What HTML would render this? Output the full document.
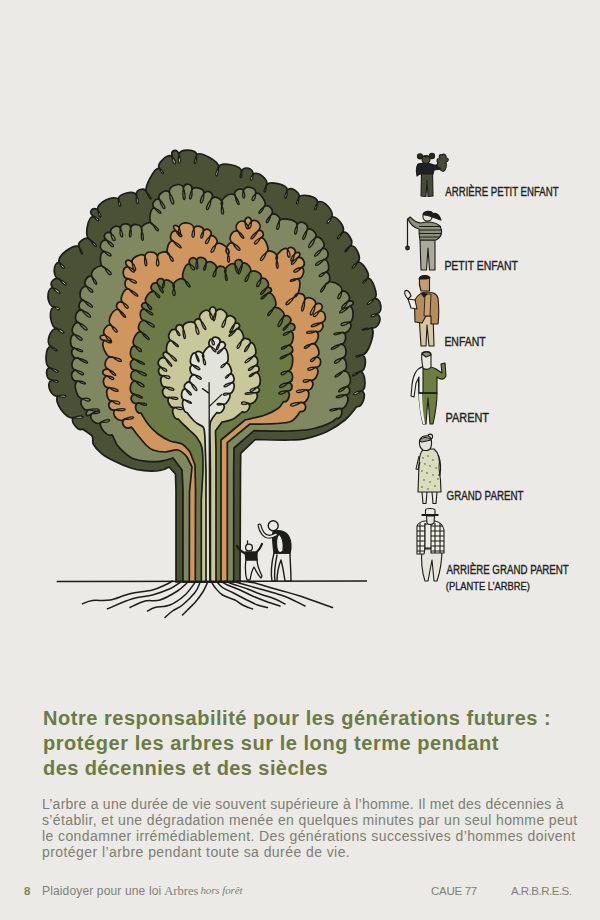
<!DOCTYPE html>
<html><head><meta charset="utf-8">
<style>
html,body{margin:0;padding:0;}
body{width:600px;height:920px;background:#ebeae6;position:relative;overflow:hidden;font-family:"Liberation Sans",sans-serif;}
.t{position:absolute;white-space:nowrap;}
#title{left:43px;top:706px;font-weight:bold;color:#6b7b45;font-size:20px;line-height:24.8px;letter-spacing:0.45px;}
#body{left:42px;top:795.7px;color:#7e7e71;font-size:14px;line-height:16.1px;letter-spacing:0.25px;}
.f{font-size:11px;color:#808078;}
svg{position:absolute;left:0;top:0;}
</style></head><body>
<svg width="600" height="660" viewBox="0 0 600 660" id="art">
<path d="M176.0,582.0 L176.0,490.0 L175.5,474.0 L169.0,467.0 C169.0,467.0 164.2,469.9 160.0,470.5 C155.8,471.1 148.9,471.1 144.0,470.7 C139.1,470.3 135.6,469.6 130.7,468.0 C125.8,466.4 119.6,463.8 114.7,461.3 C109.8,458.9 104.9,456.2 101.3,453.3 C97.7,450.4 94.8,446.9 93.3,444.0 C91.8,441.1 93.8,438.5 92.0,436.0 C90.2,433.5 86.9,432.3 82.7,429.0 C78.1,431.7 69.8,421.4 73.5,417.5 C66.8,420.6 52.8,401.3 57.9,395.9 C51.2,397.7 45.3,383.3 51.4,379.9 C46.2,379.9 44.7,368.9 49.8,367.6 C44.2,366.2 45.1,347.2 50.8,346.4 C44.9,343.3 50.6,327.3 57.1,328.6 C50.4,328.5 47.7,308.9 54.1,306.9 C46.9,306.4 45.6,289.0 52.6,287.5 C48.4,283.3 54.7,275.9 59.6,279.3 C52.7,278.6 52.3,263.2 59.2,262.2 C56.3,256.2 74.3,242.7 79.2,247.1 C76.5,242.2 86.3,235.4 90.0,239.6 C84.0,237.5 87.3,216.6 93.7,216.4 C87.9,212.4 91.6,206.4 97.7,209.8 C95.7,203.1 114.5,193.8 118.6,199.5 C118.1,193.3 134.3,189.7 136.5,195.5 C135.3,189.3 144.7,186.7 146.9,192.6 C143.1,189.1 154.3,167.1 159.3,168.1 C156.3,163.5 167.8,153.1 172.1,156.5 C170.4,149.9 176.7,148.0 179.1,154.4 C180.1,148.5 196.0,148.9 196.7,154.8 C200.4,150.8 219.9,161.9 218.4,167.1 C220.7,161.2 241.6,165.3 241.5,171.6 C243.8,165.4 254.0,168.0 252.9,174.5 C257.7,170.1 269.7,180.1 266.3,185.6 C268.6,180.2 287.5,184.4 287.3,190.2 C291.3,185.8 301.4,193.0 298.5,198.2 C300.8,192.5 318.0,196.2 317.6,202.3 C323.3,198.6 335.6,212.2 331.2,217.5 C336.7,214.7 346.6,228.2 342.2,232.6 C347.6,230.2 354.7,242.3 350.2,245.9 C356.1,244.3 362.5,259.1 357.3,262.4 C362.0,260.5 371.0,274.8 367.4,278.2 C372.4,277.6 378.9,295.6 374.6,298.3 C381.2,298.0 383.5,312.0 377.1,313.9 C383.5,317.4 378.1,330.0 371.1,327.8 C376.6,331.3 368.1,355.7 361.7,355.0 C367.4,356.3 366.1,371.2 360.2,371.5 C365.5,372.1 366.8,389.4 361.6,390.7 C367.2,393.3 362.8,407.7 356.7,406.7 C353.5,410.9 350.0,415.8 345.0,420.0 C340.0,424.2 333.1,428.6 326.7,431.7 C320.3,434.8 312.8,436.9 306.7,438.3 C300.6,439.7 298.6,439.8 290.0,440.0 C281.4,440.2 255.3,439.5 255.3,439.5 L240.7,453.3 L240.5,470.0 L240.0,582.0 L176.0,582.0Z" fill="#4a5134" stroke="#1c1c18" stroke-width="1.7" stroke-linejoin="round"/>
<path d="M73.5,417.5 C86.6,420.2 86.1,413.1 73.5,417.5 M57.9,395.9 C68.3,400.1 68.7,392.8 57.9,395.9 M51.4,379.9 C59.2,385.4 61.0,379.2 51.4,379.9 M49.8,367.6 C59.5,376.5 62.6,370.6 49.8,367.6 M50.8,346.4 C57.2,354.8 60.7,350.2 50.8,346.4 M57.1,328.6 C64.1,337.5 68.1,331.1 57.1,328.6 M54.1,306.9 C59.8,313.3 62.7,306.8 54.1,306.9 M52.6,287.5 C60.0,297.8 64.4,291.9 52.6,287.5 M59.6,279.3 C66.2,289.5 70.8,284.0 59.6,279.3 M59.2,262.2 C63.2,272.4 68.3,268.3 59.2,262.2 M79.2,247.1 C80.8,257.4 85.6,255.3 79.2,247.1 M90.0,239.6 C96.0,250.9 100.8,246.4 90.0,239.6 M93.7,216.4 C98.4,224.5 102.5,219.5 93.7,216.4 M97.7,209.8 C98.8,220.5 104.4,218.2 97.7,209.8 M118.6,199.5 C117.6,209.6 123.9,208.1 118.6,199.5 M136.5,195.5 C134.9,206.9 141.5,205.9 136.5,195.5 M146.9,192.6 C150.3,202.5 154.6,199.7 146.9,192.6 M159.3,168.1 C162.4,177.0 166.9,173.7 159.3,168.1 M172.1,156.5 C172.8,167.9 179.6,165.1 172.1,156.5 M179.1,154.4 C176.0,166.5 183.2,166.1 179.1,154.4 M196.7,154.8 C191.4,166.0 197.1,167.2 196.7,154.8 M218.4,167.1 C212.2,178.2 218.9,179.7 218.4,167.1 M241.5,171.6 C237.9,179.4 243.0,180.1 241.5,171.6 M252.9,174.5 C247.0,180.8 253.7,183.1 252.9,174.5 M266.3,185.6 C261.2,193.6 266.4,195.1 266.3,185.6 M287.3,190.2 C281.7,200.3 287.5,201.7 287.3,190.2 M298.5,198.2 C293.9,205.5 299.2,206.8 298.5,198.2 M317.6,202.3 C311.4,211.3 316.7,213.2 317.6,202.3 M331.2,217.5 C323.2,223.3 329.0,227.1 331.2,217.5 M342.2,232.6 C333.7,238.9 338.4,242.5 342.2,232.6 M350.2,245.9 C341.4,251.9 345.3,255.3 350.2,245.9 M357.3,262.4 C348.6,267.8 353.3,271.8 357.3,262.4 M367.4,278.2 C359.5,282.9 363.4,286.5 367.4,278.2 M374.6,298.3 C363.0,303.9 367.2,308.8 374.6,298.3 M377.1,313.9 C367.6,314.3 370.3,320.5 377.1,313.9 M371.1,327.8 C358.8,327.8 359.9,332.8 371.1,327.8 M361.7,355.0 C353.3,354.8 355.0,360.0 361.7,355.0 M360.2,371.5 C348.8,374.6 351.4,379.5 360.2,371.5 M361.6,390.7 C349.7,392.3 352.6,398.6 361.6,390.7" fill="#ebeae6" stroke="#1c1c18" stroke-width="1.3" stroke-linecap="round"/>
<path d="M183.0,582.0 L183.0,490.0 L182.0,470.0 L173.0,458.0 C173.0,458.0 164.4,460.8 160.0,461.3 C155.6,461.9 151.1,461.7 146.7,461.3 C142.2,460.9 136.9,460.0 133.3,458.7 C129.7,457.4 128.0,455.5 125.3,453.3 C122.6,451.1 119.5,448.4 117.3,445.3 C115.1,442.2 114.2,437.6 112.0,434.7 C107.4,437.5 97.7,426.1 101.2,422.0 C96.4,426.5 88.0,418.9 91.8,413.6 C86.7,417.7 83.7,414.2 88.5,409.7 C83.2,411.7 78.1,401.7 82.8,398.7 C77.0,399.4 72.4,383.6 77.7,381.0 C71.1,381.7 69.2,371.9 75.6,370.1 C69.6,368.4 71.5,357.4 77.7,357.9 C72.2,359.2 69.2,350.4 74.4,348.1 C69.3,347.4 69.3,335.0 74.4,334.4 C69.7,331.9 73.6,321.4 78.8,322.7 C73.0,320.6 75.7,309.3 81.8,310.1 C77.1,308.6 78.9,300.0 83.8,300.5 C77.5,298.6 79.8,285.8 86.5,286.3 C82.3,283.2 87.3,274.5 92.0,276.6 C88.8,270.8 100.0,262.7 104.5,267.6 C99.2,266.9 98.9,252.3 104.2,251.4 C97.7,249.4 100.0,239.2 106.7,240.1 C101.7,236.4 105.6,230.3 111.0,233.3 C108.8,228.0 117.3,223.6 120.4,228.4 C120.6,222.6 129.9,222.2 130.7,227.8 C132.6,222.1 142.7,224.5 141.8,230.5 C139.8,224.9 150.2,219.9 153.3,224.9 C148.1,223.7 149.2,208.5 154.5,208.0 C150.4,205.0 154.9,197.4 159.5,199.5 C156.7,194.5 165.7,188.2 169.5,192.5 C167.9,186.0 180.4,181.4 183.4,187.4 C185.4,181.8 193.0,183.9 191.9,189.7 C193.8,185.4 204.6,188.5 203.9,193.2 C208.4,188.6 215.0,194.0 211.2,199.2 C215.0,194.3 224.6,200.0 221.9,205.7 C218.5,199.9 230.3,190.8 235.0,195.5 C232.9,190.9 240.4,186.5 243.4,190.6 C245.4,184.7 256.5,187.3 255.7,193.5 C260.1,191.6 267.7,203.3 264.2,206.5 C269.4,203.4 275.2,211.5 270.6,215.5 C273.9,211.5 281.7,216.7 279.2,221.3 C281.1,216.5 297.2,219.7 297.1,224.8 C300.5,219.2 309.5,223.7 307.1,229.8 C310.7,226.7 318.3,233.7 315.4,237.6 C320.6,235.0 327.0,244.8 322.5,248.5 C329.0,248.3 330.2,258.2 323.8,259.5 C329.0,259.4 330.6,270.9 325.7,272.2 C330.7,272.6 331.2,282.9 326.2,283.7 C329.9,278.3 343.9,285.4 341.7,291.6 C346.6,289.2 352.2,297.9 347.8,301.4 C353.7,299.4 355.4,303.9 349.7,306.3 C354.3,307.2 354.1,321.5 349.4,322.2 C353.6,325.6 347.7,334.8 342.8,332.4 C347.6,333.9 345.8,344.5 340.8,344.2 C346.9,344.4 348.0,356.9 342.0,358.1 C346.8,358.1 348.2,369.6 343.6,370.8 C350.3,370.3 353.1,384.4 346.7,386.5 C351.2,387.5 350.2,394.9 345.6,394.7 C351.0,397.8 345.8,410.1 339.8,408.4 C344.0,410.2 341.2,419.2 336.7,418.3 C331.2,423.4 322.8,426.2 315.0,428.3 C307.2,430.4 300.2,430.6 290.0,431.0 C279.8,431.4 254.0,430.7 254.0,430.7 L234.0,448.0 L233.7,470.0 L233.7,582.0 L183.0,582.0Z" fill="#7f8860" stroke="#1c1c18" stroke-width="1.7" stroke-linejoin="round"/>
<path d="M101.2,422.0 C113.3,424.2 111.5,415.4 101.2,422.0 M91.8,413.6 C103.1,414.5 101.5,407.7 91.8,413.6 M88.5,409.7 C102.6,414.1 102.9,406.5 88.5,409.7 M82.8,398.7 C91.6,405.4 93.6,396.1 82.8,398.7 M77.7,381.0 C87.0,387.4 88.9,381.2 77.7,381.0 M75.6,370.1 C84.1,379.5 88.1,372.2 75.6,370.1 M77.7,357.9 C89.3,367.4 92.3,361.3 77.7,357.9 M74.4,348.1 C84.1,355.6 86.6,349.6 74.4,348.1 M74.4,334.4 C82.0,345.4 87.2,338.3 74.4,334.4 M78.8,322.7 C86.6,335.8 92.8,328.8 78.8,322.7 M81.8,310.1 C90.5,322.7 96.2,315.6 81.8,310.1 M83.8,300.5 C92.9,312.3 97.6,306.0 83.8,300.5 M86.5,286.3 C91.8,297.0 97.6,290.8 86.5,286.3 M92.0,276.6 C95.0,288.5 100.8,285.1 92.0,276.6 M104.5,267.6 C109.7,280.0 116.4,273.8 104.5,267.6 M104.2,251.4 C110.9,260.5 115.3,253.5 104.2,251.4 M106.7,240.1 C112.7,251.6 118.3,245.8 106.7,240.1 M111.0,233.3 C111.5,245.0 120.0,240.8 111.0,233.3 M120.4,228.4 C118.3,240.4 126.5,238.9 120.4,228.4 M130.7,227.8 C126.7,240.1 133.1,240.5 130.7,227.8 M141.8,230.5 C139.5,244.1 146.4,243.6 141.8,230.5 M153.3,224.9 C157.3,234.8 162.3,230.6 153.3,224.9 M154.5,208.0 C160.8,217.4 165.0,212.2 154.5,208.0 M159.5,199.5 C162.9,213.6 169.9,209.5 159.5,199.5 M169.5,192.5 C169.8,209.3 178.8,206.5 169.5,192.5 M183.4,187.4 C181.1,203.8 188.2,203.3 183.4,187.4 M191.9,189.7 C186.1,201.5 193.2,202.8 191.9,189.7 M203.9,193.2 C196.0,205.0 204.0,207.4 203.9,193.2 M211.2,199.2 C201.5,211.4 209.5,214.7 211.2,199.2 M221.9,205.7 C219.2,217.4 226.9,216.6 221.9,205.7 M235.0,195.5 C237.1,208.9 243.0,206.4 235.0,195.5 M243.4,190.6 C240.1,200.8 247.8,200.3 243.4,190.6 M255.7,193.5 C247.5,201.2 255.4,204.8 255.7,193.5 M264.2,206.5 C254.7,213.6 260.1,217.6 264.2,206.5 M270.6,215.5 C262.2,223.3 268.4,226.7 270.6,215.5 M279.2,221.3 C272.8,231.3 280.7,233.0 279.2,221.3 M297.1,224.8 C291.0,236.6 298.3,238.0 297.1,224.8 M307.1,229.8 C298.4,241.2 305.0,244.0 307.1,229.8 M315.4,237.6 C302.9,248.1 310.9,253.3 315.4,237.6 M322.5,248.5 C309.4,255.8 314.9,261.4 322.5,248.5 M323.8,259.5 C310.7,263.5 315.4,270.3 323.8,259.5 M325.7,272.2 C315.1,274.5 319.3,281.0 325.7,272.2 M326.2,283.7 C316.1,292.8 321.9,296.6 326.2,283.7 M341.7,291.6 C333.2,299.1 341.3,302.9 341.7,291.6 M347.8,301.4 C336.9,308.0 343.0,313.2 347.8,301.4 M349.7,306.3 C334.2,311.2 338.6,318.2 349.7,306.3 M349.4,322.2 C336.9,321.0 339.7,330.1 349.4,322.2 M342.8,332.4 C330.3,331.6 331.5,338.0 342.8,332.4 M340.8,344.2 C326.6,347.8 329.7,353.8 340.8,344.2 M342.0,358.1 C329.7,360.7 334.7,368.3 342.0,358.1 M343.6,370.8 C330.2,376.4 334.0,381.7 343.6,370.8 M346.7,386.5 C333.9,390.0 338.1,396.5 346.7,386.5 M345.6,394.7 C332.2,394.6 334.0,401.4 345.6,394.7 M339.8,408.4 C325.8,407.9 327.2,414.4 339.8,408.4" fill="none" stroke="#1c1c18" stroke-width="1.3" stroke-linecap="round"/>
<path d="M189.3,582.0 L189.5,492.0 L192.0,467.0 L187.0,457.0 C187.0,457.0 181.7,450.8 178.0,450.0 C174.3,449.2 169.2,452.0 165.0,452.0 C160.8,452.0 156.2,451.2 153.0,450.0 C149.8,448.8 148.6,447.6 146.0,445.0 C143.4,442.4 139.8,437.7 137.3,434.7 C134.8,431.7 133.9,429.4 131.0,427.0 C125.7,430.7 119.8,423.7 124.5,419.1 C119.2,423.5 110.7,415.1 115.0,409.8 C109.1,411.4 106.3,403.3 111.8,400.9 C106.9,401.1 104.6,389.3 109.3,387.7 C102.8,388.1 101.1,377.6 107.5,376.0 C100.8,375.0 101.5,368.8 108.2,369.2 C102.2,366.4 105.9,355.5 112.4,357.1 C106.7,358.7 99.7,343.7 104.6,340.4 C98.5,339.6 98.9,334.8 105.0,335.0 C101.2,331.7 106.9,323.1 111.4,325.5 C105.9,322.0 112.5,307.7 118.7,309.6 C114.0,306.1 117.9,299.9 123.1,302.7 C118.6,300.0 123.8,287.7 128.8,289.0 C124.1,288.7 123.7,279.5 128.4,278.7 C121.9,278.4 121.4,267.6 127.8,266.7 C123.3,261.6 127.3,257.8 132.2,262.4 C130.7,257.9 142.2,252.2 144.9,256.2 C146.2,249.9 157.4,251.0 157.5,257.4 C157.0,251.9 167.7,249.8 169.3,255.0 C164.8,253.0 168.2,240.4 173.1,241.0 C168.3,239.1 170.9,230.0 176.0,230.9 C171.4,226.6 174.2,223.4 179.1,227.3 C180.4,220.8 193.6,221.9 193.8,228.5 C195.5,224.1 204.1,226.4 203.4,231.0 C207.3,226.6 213.5,231.2 210.2,236.2 C214.3,234.0 219.4,241.4 215.9,244.4 C220.4,240.2 231.5,249.3 228.3,254.5 C223.6,252.0 227.6,241.7 232.8,243.1 C227.0,239.9 231.7,229.1 237.9,231.1 C232.9,226.5 239.3,218.3 245.0,222.0 C244.6,216.3 250.5,215.6 251.5,221.2 C257.4,217.8 263.4,226.3 258.1,230.7 C263.2,229.4 265.4,236.0 260.5,238.0 C265.2,236.9 270.5,249.9 266.4,252.4 C270.4,248.0 279.6,254.6 276.7,259.8 C274.0,255.9 283.8,246.3 287.6,249.1 C290.7,245.2 297.1,249.3 294.7,253.7 C299.3,250.7 301.9,254.3 297.6,257.7 C303.3,255.9 306.9,264.8 301.6,267.5 C306.0,269.7 302.4,279.7 297.6,278.6 C302.0,280.3 299.1,296.8 294.4,297.0 C296.6,290.8 305.9,293.3 304.7,299.8 C307.4,295.2 317.0,299.6 315.4,304.6 C321.3,301.3 325.0,307.1 319.5,311.0 C326.1,310.6 327.7,321.0 321.3,322.6 C325.6,325.9 320.6,333.7 315.8,331.3 C320.9,333.6 317.2,344.9 311.7,343.8 C317.3,342.5 321.7,354.3 316.5,357.0 C322.5,358.0 321.7,367.3 315.7,367.3 C320.8,370.2 315.9,381.7 310.2,380.1 C315.4,382.6 312.1,391.4 306.5,389.8 C311.7,392.7 307.0,404.1 301.2,402.4 C307.8,403.8 306.7,412.1 300.0,411.7 C297.3,415.3 295.8,419.6 290.0,421.7 C284.2,423.8 271.7,423.6 265.0,424.0 C258.3,424.4 250.0,424.0 250.0,424.0 L227.3,442.7 L227.3,460.0 L227.3,582.0 L189.3,582.0Z" fill="#d0965f" stroke="#1c1c18" stroke-width="1.7" stroke-linejoin="round"/>
<path d="M124.5,419.1 C137.3,420.6 136.0,413.3 124.5,419.1 M115.0,409.8 C128.8,412.9 128.7,406.1 115.0,409.8 M111.8,400.9 C121.1,408.5 123.8,399.8 111.8,400.9 M109.3,387.7 C119.6,395.7 122.4,388.5 109.3,387.7 M107.5,376.0 C114.2,383.4 117.5,376.8 107.5,376.0 M108.2,369.2 C116.1,379.7 120.1,375.0 108.2,369.2 M112.4,357.1 C122.8,365.9 125.9,358.5 112.4,357.1 M104.6,340.4 C113.0,346.6 114.9,338.8 104.6,340.4 M105.0,335.0 C110.4,346.6 116.3,341.0 105.0,335.0 M111.4,325.5 C115.8,336.8 122.0,331.4 111.4,325.5 M118.7,309.6 C125.5,322.0 130.1,317.9 118.7,309.6 M123.1,302.7 C126.5,312.6 132.6,307.1 123.1,302.7 M128.8,289.0 C138.7,301.1 142.9,295.7 128.8,289.0 M128.4,278.7 C137.4,287.7 140.9,280.7 128.4,278.7 M127.8,266.7 C134.4,276.5 138.9,270.9 127.8,266.7 M132.2,262.4 C132.8,274.2 139.5,271.7 132.2,262.4 M144.9,256.2 C143.1,269.5 150.0,268.6 144.9,256.2 M157.5,257.4 C153.6,269.1 162.0,268.8 157.5,257.4 M169.3,255.0 C170.7,265.1 177.4,261.2 169.3,255.0 M173.1,241.0 C181.4,252.6 185.9,247.3 173.1,241.0 M176.0,230.9 C180.3,241.5 186.5,235.6 176.0,230.9 M179.1,227.3 C176.7,238.2 183.4,237.7 179.1,227.3 M193.8,228.5 C188.6,240.0 196.7,240.8 193.8,228.5 M203.4,231.0 C197.2,239.5 204.0,241.5 203.4,231.0 M210.2,236.2 C200.8,243.8 208.2,248.1 210.2,236.2 M215.9,244.4 C206.2,252.7 213.7,257.0 215.9,244.4 M228.3,254.5 C225.3,265.0 232.3,264.6 228.3,254.5 M232.8,243.1 C239.0,255.6 245.2,249.4 232.8,243.1 M237.9,231.1 C242.9,242.6 248.2,238.3 237.9,231.1 M245.0,222.0 C245.5,232.7 252.5,229.7 245.0,222.0 M251.5,221.2 C243.7,229.3 251.6,232.5 251.5,221.2 M258.1,230.7 C246.2,239.4 251.2,243.8 258.1,230.7 M260.5,238.0 C249.7,242.6 255.6,248.7 260.5,238.0 M266.4,252.4 C255.4,260.8 262.3,265.7 266.4,252.4 M276.7,259.8 C274.6,271.4 281.0,270.8 276.7,259.8 M287.6,249.1 C285.7,260.8 294.0,259.1 287.6,249.1 M294.7,253.7 C286.7,262.0 293.1,265.1 294.7,253.7 M297.6,257.7 C286.9,264.0 292.4,268.9 297.6,257.7 M301.6,267.5 C289.2,269.3 293.4,277.1 301.6,267.5 M297.6,278.6 C286.9,278.8 288.8,284.6 297.6,278.6 M294.4,297.0 C280.3,303.9 286.2,310.4 294.4,297.0 M304.7,299.8 C297.7,313.9 304.9,315.6 304.7,299.8 M315.4,304.6 C305.1,316.6 313.3,320.2 315.4,304.6 M319.5,311.0 C308.8,315.1 314.5,321.3 319.5,311.0 M321.3,322.6 C306.4,323.9 309.2,331.4 321.3,322.6 M315.8,331.3 C303.0,329.7 304.0,336.6 315.8,331.3 M311.7,343.8 C300.2,346.5 303.5,352.4 311.7,343.8 M316.5,357.0 C306.4,359.5 311.0,365.8 316.5,357.0 M315.7,367.3 C303.9,366.3 306.3,374.5 315.7,367.3 M310.2,380.1 C300.0,377.5 301.6,386.1 310.2,380.1 M306.5,389.8 C292.3,388.0 294.0,396.8 306.5,389.8 M301.2,402.4 C285.8,402.2 288.2,410.7 301.2,402.4" fill="none" stroke="#1c1c18" stroke-width="1.3" stroke-linecap="round"/>
<path d="M195.3,582.0 L195.5,490.0 L195.0,465.0 L190.0,452.0 C190.0,452.0 185.3,445.8 182.0,444.0 C178.7,442.2 174.0,442.7 170.0,441.0 C166.0,439.3 161.7,436.8 158.0,434.0 C154.3,431.2 150.8,427.5 148.0,424.0 C145.2,420.5 143.9,417.9 141.0,413.0 C135.8,413.9 133.4,404.9 138.3,403.0 C132.1,405.4 128.3,397.5 134.0,394.2 C128.3,392.9 129.5,381.1 135.4,381.0 C128.9,380.0 129.7,370.4 136.2,370.4 C129.8,370.9 128.1,360.8 134.4,359.2 C128.7,358.2 129.3,346.3 135.0,345.9 C130.3,342.9 136.2,330.4 141.5,332.1 C136.0,329.9 139.0,319.5 144.9,320.6 C139.3,320.4 138.5,309.9 144.0,308.9 C139.7,306.6 141.9,301.5 146.6,303.2 C142.7,299.6 149.9,289.4 154.6,291.8 C148.6,289.6 150.9,281.7 157.2,283.1 C156.3,278.6 162.5,276.8 164.2,281.1 C167.3,277.7 176.0,283.8 173.8,287.9 C170.9,282.7 180.7,275.7 184.7,280.1 C180.0,277.8 184.5,263.3 189.7,264.0 C187.3,258.8 193.7,255.3 196.8,260.1 C199.0,255.0 207.5,257.8 206.2,263.3 C209.5,259.1 218.4,264.6 216.0,269.4 C219.0,263.3 227.5,266.7 225.5,273.2 C222.5,269.1 231.0,261.2 234.9,264.4 C234.5,258.9 241.4,257.9 242.6,263.3 C247.0,260.9 253.2,269.7 249.5,273.1 C252.7,268.0 263.0,272.9 261.0,278.6 C265.6,276.1 271.0,284.1 267.0,287.5 C272.3,286.9 273.1,292.0 267.9,293.1 C274.0,291.8 278.9,305.6 273.3,308.4 C277.1,304.8 286.3,312.3 283.5,316.8 C288.1,313.3 293.4,319.2 289.4,323.4 C296.0,322.9 297.0,330.1 290.6,331.4 C295.2,332.8 293.2,345.3 288.4,345.3 C293.1,344.9 294.4,352.4 289.9,353.6 C294.8,355.1 292.7,370.9 287.6,371.1 C293.9,371.4 294.3,381.8 288.1,382.7 C293.9,383.8 293.0,391.3 287.1,391.0 C291.7,393.2 288.3,402.9 283.3,401.7 C281.2,404.8 281.4,406.1 278.3,408.3 C275.2,410.5 270.6,413.1 265.0,415.0 C259.4,416.9 245.0,420.0 245.0,420.0 L221.0,440.0 L221.0,460.0 L221.0,582.0 L195.3,582.0Z" fill="#6c7a48" stroke="#1c1c18" stroke-width="1.7" stroke-linejoin="round"/>
<path d="M138.3,403.0 C148.6,408.6 150.0,402.1 138.3,403.0 M134.0,394.2 C143.9,401.8 146.4,396.1 134.0,394.2 M135.4,381.0 C144.4,392.1 149.2,384.7 135.4,381.0 M136.2,370.4 C147.9,380.9 151.6,373.5 136.2,370.4 M134.4,359.2 C146.6,368.7 149.3,363.2 134.4,359.2 M135.0,345.9 C140.6,356.5 146.3,349.5 135.0,345.9 M141.5,332.1 C149.0,344.5 154.1,339.3 141.5,332.1 M144.9,320.6 C155.2,332.2 159.6,325.6 144.9,320.6 M144.0,308.9 C154.1,319.6 157.9,313.8 144.0,308.9 M146.6,303.2 C150.1,313.7 155.9,309.1 146.6,303.2 M154.6,291.8 C158.5,301.9 163.9,297.1 154.6,291.8 M157.2,283.1 C162.1,297.9 168.1,294.2 157.2,283.1 M164.2,281.1 C159.4,289.7 165.5,290.9 164.2,281.1 M173.8,287.9 C169.9,298.3 178.4,298.1 173.8,287.9 M184.7,280.1 C188.9,291.4 194.4,287.2 184.7,280.1 M189.7,264.0 C192.3,274.6 199.4,268.9 189.7,264.0 M196.8,260.1 C193.8,272.1 200.5,271.9 196.8,260.1 M206.2,263.3 C200.4,271.6 206.4,273.4 206.2,263.3 M216.0,269.4 C209.0,278.0 216.8,280.5 216.0,269.4 M225.5,273.2 C224.1,283.7 230.2,282.7 225.5,273.2 M234.9,264.4 C235.7,277.1 242.2,274.9 234.9,264.4 M242.6,263.3 C234.3,276.7 240.4,278.9 242.6,263.3 M249.5,273.1 C240.3,282.5 247.8,286.2 249.5,273.1 M261.0,278.6 C251.8,287.2 260.0,291.2 261.0,278.6 M267.0,287.5 C256.2,294.1 261.2,298.8 267.0,287.5 M267.9,293.1 C256.9,298.5 261.0,303.2 267.9,293.1 M273.3,308.4 C263.4,315.8 268.8,320.0 273.3,308.4 M283.5,316.8 C272.7,327.8 280.4,331.9 283.5,316.8 M289.4,323.4 C278.8,330.5 283.4,334.6 289.4,323.4 M290.6,331.4 C279.4,333.2 282.4,339.3 290.6,331.4 M288.4,345.3 C277.5,347.1 280.6,353.1 288.4,345.3 M289.9,353.6 C275.4,357.5 278.4,363.2 289.9,353.6 M287.6,371.1 C277.1,371.3 281.0,379.3 287.6,371.1 M288.1,382.7 C274.6,384.5 278.9,392.6 288.1,382.7 M287.1,391.0 C274.6,390.3 277.2,398.8 287.1,391.0" fill="none" stroke="#1c1c18" stroke-width="1.3" stroke-linecap="round"/>
<path d="M201.3,582.0 L201.3,500.0 L203.0,470.0 C203.0,470.0 203.1,453.4 202.0,448.0 C200.9,442.6 198.8,440.3 196.7,437.3 C194.6,434.3 192.4,433.1 189.3,430.0 C186.2,426.9 181.9,423.7 178.3,419.0 C173.7,419.8 170.5,409.4 174.7,407.5 C170.6,409.0 165.7,400.0 169.3,397.4 C163.2,399.0 159.9,389.9 165.6,387.2 C160.8,387.6 158.8,377.1 163.4,375.7 C158.6,376.5 156.6,369.0 161.1,367.3 C155.4,364.2 159.1,355.9 165.2,358.1 C160.9,353.7 164.5,349.9 169.1,354.0 C164.4,352.5 166.4,340.5 171.4,340.7 C165.8,337.6 170.0,327.8 176.1,329.8 C175.1,324.4 181.4,322.7 183.1,327.9 C182.4,322.2 193.7,319.4 195.7,324.9 C192.6,321.2 197.0,316.9 200.6,320.1 C196.7,315.0 204.9,307.4 209.6,311.6 C209.4,305.8 215.2,305.3 216.1,311.1 C220.3,306.2 229.2,312.5 226.0,318.1 C229.6,313.0 237.7,317.6 235.0,323.3 C239.8,322.0 241.5,327.0 236.9,328.9 C241.9,327.7 246.0,338.9 241.4,341.3 C242.6,336.7 250.8,338.1 250.5,342.7 C255.2,342.4 258.0,354.4 253.6,356.1 C258.1,355.9 259.4,364.6 255.1,365.7 C260.1,365.7 260.6,371.8 255.6,372.5 C261.3,373.0 262.0,386.4 256.4,387.5 C260.7,388.2 260.2,392.8 255.8,392.6 C260.2,396.5 253.3,406.1 248.2,403.3 C252.1,406.6 247.0,414.1 242.5,411.7 C239.4,414.1 236.7,417.3 233.3,419.0 C229.9,420.7 222.0,422.0 222.0,422.0 L215.5,431.0 L216.0,450.0 L216.0,582.0 L201.3,582.0Z" fill="#c8c89b" stroke="#1c1c18" stroke-width="1.7" stroke-linejoin="round"/>
<path d="M174.7,407.5 C184.4,413.3 185.8,405.3 174.7,407.5 M169.3,397.4 C180.2,402.5 181.2,395.9 169.3,397.4 M165.6,387.2 C175.6,394.3 177.8,386.8 165.6,387.2 M163.4,375.7 C170.6,382.6 173.4,374.5 163.4,375.7 M161.1,367.3 C166.3,375.6 170.7,368.9 161.1,367.3 M165.2,358.1 C171.5,370.7 176.1,367.0 165.2,358.1 M169.1,354.0 C176.6,365.7 181.2,360.7 169.1,354.0 M171.4,340.7 C178.7,350.8 182.5,346.4 171.4,340.7 M176.1,329.8 C178.1,339.1 183.5,335.9 176.1,329.8 M183.1,327.9 C182.3,342.6 188.5,341.6 183.1,327.9 M195.7,324.9 C195.2,338.7 203.3,336.4 195.7,324.9 M200.6,320.1 C204.4,334.2 210.3,331.0 200.6,320.1 M209.6,311.6 C209.8,323.1 216.7,320.7 209.6,311.6 M216.1,311.1 C209.9,323.3 215.8,324.7 216.1,311.1 M226.0,318.1 C217.4,328.9 225.0,331.8 226.0,318.1 M235.0,323.3 C225.7,333.9 230.9,336.8 235.0,323.3 M236.9,328.9 C224.4,336.5 228.5,340.9 236.9,328.9 M241.4,341.3 C232.8,348.8 239.4,352.5 241.4,341.3 M250.5,342.7 C240.0,352.8 245.6,356.4 250.5,342.7 M253.6,356.1 C240.1,361.8 244.5,367.6 253.6,356.1 M255.1,365.7 C244.5,368.9 248.2,374.4 255.1,365.7 M255.6,372.5 C245.7,375.1 248.8,380.2 255.6,372.5 M256.4,387.5 C246.1,388.8 249.9,395.5 256.4,387.5 M255.8,392.6 C241.0,391.0 241.6,397.2 255.8,392.6 M248.2,403.3 C239.3,398.8 239.0,407.4 248.2,403.3" fill="none" stroke="#1c1c18" stroke-width="1.3" stroke-linecap="round"/>
<path d="M206.0,582.0 L206.0,470.0 L205.0,440.0 C205.0,440.0 204.7,430.6 203.7,428.0 C202.7,425.4 200.5,425.7 198.9,424.5 C197.3,423.3 196.1,423.0 194.1,421.0 C192.1,419.0 189.0,415.3 187.0,412.5 C183.4,412.6 180.7,401.0 184.1,399.6 C180.0,398.5 181.2,388.9 185.4,388.9 C182.3,385.5 187.3,380.1 190.9,382.9 C187.8,381.0 191.1,373.7 194.7,374.8 C190.1,375.3 188.1,366.5 192.5,365.0 C188.4,363.4 191.0,352.5 195.4,352.9 C198.2,349.2 205.3,353.5 203.3,357.7 C200.6,355.0 207.5,345.0 211.0,346.5 C207.7,345.7 208.7,338.8 212.1,339.0 C214.4,335.0 221.4,338.2 219.9,342.5 C223.8,340.1 227.3,345.1 223.8,348.0 C227.9,348.1 229.9,361.8 226.1,363.2 C229.5,362.5 233.2,372.1 230.3,373.8 C233.8,373.4 235.6,381.1 232.3,382.4 C236.2,384.1 233.3,394.1 229.1,393.5 C232.0,395.9 226.5,405.4 223.0,404.1 C226.5,407.3 221.1,414.9 216.9,412.5 C214.9,414.7 212.1,418.4 210.9,421.0 C209.7,423.6 210.1,424.8 209.9,428.0 C209.8,431.2 210.0,440.0 210.0,440.0 L210.4,470.0 L210.4,582.0 L206.0,582.0Z" fill="#e2e3da" stroke="#1c1c18" stroke-width="1.7" stroke-linejoin="round"/>
<path d="M184.1,399.6 C192.6,406.8 195.1,401.8 184.1,399.6 M185.4,388.9 C191.1,399.0 195.4,394.7 185.4,388.9 M190.9,382.9 C195.6,395.2 201.6,390.7 190.9,382.9 M194.7,374.8 C201.7,383.3 205.3,377.5 194.7,374.8 M192.5,365.0 C200.5,373.9 204.1,367.7 192.5,365.0 M195.4,352.9 C197.8,365.8 202.6,363.8 195.4,352.9 M203.3,357.7 C202.5,367.9 208.9,366.3 203.3,357.7 M211.0,346.5 C214.9,355.7 219.8,351.2 211.0,346.5 M212.1,339.0 C210.8,347.9 217.9,345.9 212.1,339.0 M219.9,342.5 C213.0,351.0 218.0,353.2 219.9,342.5 M223.8,348.0 C213.4,353.2 217.3,357.6 223.8,348.0 M226.1,363.2 C217.3,366.3 221.3,371.2 226.1,363.2 M230.3,373.8 C222.0,377.4 225.8,381.6 230.3,373.8 M232.3,382.4 C219.7,384.7 222.7,390.9 232.3,382.4 M229.1,393.5 C220.7,391.3 221.9,398.4 229.1,393.5 M223.0,404.1 C215.0,401.2 215.1,407.2 223.0,404.1" fill="none" stroke="#1c1c18" stroke-width="1.3" stroke-linecap="round"/>
<path d="M209.1,382.6 L209.7,582 M202.5,388.6 L209.1,393.4 M209.1,406.6 L221.6,394.6" stroke="#1c1c18" stroke-width="1.3" fill="none" stroke-linecap="round"/>
<path d="M172.5,581.0 C171.2,581.7 168.3,583.5 165.0,585.0 C161.7,586.5 158.3,588.5 152.5,590.0 C146.7,591.5 137.1,592.1 130.0,593.8 C122.9,595.4 116.2,598.9 110.0,600.0 C103.8,601.1 97.1,599.9 92.5,600.5 C87.9,601.1 84.2,603.2 82.5,603.8 M180.0,582.5 C178.3,583.5 174.6,586.7 170.0,588.8 C165.4,590.8 158.8,593.3 152.5,595.0 C146.2,596.7 140.0,596.5 132.5,598.8 C125.0,601.0 111.7,607.1 107.5,608.8 M187.5,582.5 C185.8,583.9 182.1,588.1 177.5,591.0 C172.9,593.9 165.4,598.3 160.0,600.0 C154.6,601.7 150.0,599.8 145.0,601.0 C140.0,602.2 132.5,606.4 130.0,607.5 M195.0,582.5 C193.3,584.6 189.2,591.2 185.0,595.0 C180.8,598.8 175.0,602.9 170.0,605.0 C165.0,607.1 158.8,606.5 155.0,607.5 C151.2,608.5 148.8,610.4 147.5,611.0 M200.0,582.5 C199.2,584.2 197.9,588.8 195.0,592.5 C192.1,596.2 186.2,601.9 182.5,605.0 C178.8,608.1 175.4,608.9 172.5,611.0 C169.6,613.1 166.2,616.4 165.0,617.5 M207.5,582.5 C206.7,584.2 204.6,589.2 202.5,592.5 C200.4,595.8 197.5,599.6 195.0,602.5 C192.5,605.4 189.6,607.9 187.5,610.0 C185.4,612.1 183.3,614.2 182.5,615.0 M211.0,581.0 C211.7,582.1 213.1,585.2 215.0,587.5 C216.9,589.8 219.2,592.9 222.5,595.0 C225.8,597.1 231.7,598.3 235.0,600.0 C238.3,601.7 239.6,603.5 242.5,605.0 C245.4,606.5 250.8,608.3 252.5,609.0 M216.0,581.0 C217.1,582.1 219.8,585.6 222.5,587.5 C225.2,589.4 228.8,590.6 232.5,592.5 C236.2,594.4 240.8,596.9 245.0,599.0 C249.2,601.1 253.8,603.6 257.5,605.0 C261.2,606.4 265.8,607.1 267.5,607.5 M220.0,581.0 C221.2,581.7 224.2,583.5 227.5,585.0 C230.8,586.5 235.8,588.2 240.0,590.0 C244.2,591.8 248.3,594.2 252.5,596.0 C256.7,597.8 260.4,599.3 265.0,601.0 C269.6,602.7 277.5,605.2 280.0,606.0 M225.0,581.0 C226.2,581.5 228.8,582.7 232.5,584.0 C236.2,585.3 242.9,587.3 247.5,589.0 C252.1,590.7 255.4,592.3 260.0,594.0 C264.6,595.7 270.8,597.3 275.0,599.0 C279.2,600.7 283.3,603.2 285.0,604.0 M232.5,581.0 C234.2,581.5 237.9,582.7 242.5,584.0 C247.1,585.3 255.0,587.6 260.0,589.0 C265.0,590.4 267.9,591.1 272.5,592.5 C277.1,593.9 282.1,595.2 287.5,597.5 C292.9,599.8 302.1,604.6 305.0,606.0 M237.5,581.0 C240.0,581.2 247.1,581.4 252.5,582.5 C257.9,583.6 265.0,586.1 270.0,587.5 C275.0,588.9 277.5,589.6 282.5,591.0 C287.5,592.4 291.7,593.2 300.0,596.0 C308.3,598.8 327.1,605.6 332.5,607.5" fill="none" stroke="#1c1c18" stroke-width="1.5" stroke-linecap="round" stroke-linejoin="round"/>
<path d="M56.7,581.6 L367,581" stroke="#1c1c18" stroke-width="1.5" fill="none"/>
<g stroke="#1c1c18" stroke-width="1.4" stroke-linejoin="round" stroke-linecap="round">
<path d="M274,553 C271,565 271,575 272,581 L277,581 C277,572 279,565 281,560 C283,567 284,575 285,581 L291,581 C291,570 290,560 290,553 Z" fill="#ebeae5"/>
<path d="M273,532 C278,529 286,531 289,537 C292,543 291,549 290,553 L274,553 C273,545 272,537 273,532 Z" fill="#1c1c18"/>
<path d="M279,534 C283,537 284,545 283,551 C281,554 278,553 277,549 C276,543 276,537 279,534 Z" fill="#ebeae5"/>
<path d="M276,534.5 C271,537.5 266,537.5 263,533.5 C261,531 260,528 259.5,525.5" fill="none" stroke-width="4"/>
<path d="M276,534.5 C271,537.5 266,537.5 263,533.5 C261,531 260,528 259.5,525.5" fill="none" stroke="#ebeae6" stroke-width="1.6"/>
<circle cx="273.2" cy="525.8" r="5" fill="#ebeae5"/>
<path d="M277,555 C275,565 274,575 275,581" fill="none"/>
</g>
<g stroke="#1c1c18" stroke-width="1.3" stroke-linejoin="round" stroke-linecap="round">
<path d="M246,559 C245,567 245,574 247,580 L250,580 C251,574 252,570 254,567 C256,571 258,575 261,578 L262,576 C259,570 257,563 257,559 Z" fill="#ebeae5"/>
<path d="M245,552 L257,552 L257,560 L246,560 Z" fill="#1c1c18"/>
<path d="M246,554 C242,552 239,550 237,546 M256,553 C259,550 261,547 262,544" fill="none" stroke-width="2.2"/>
<circle cx="249" cy="547.5" r="3.4" fill="#ebeae5"/>
<path d="M247.5,544 L247.5,541" fill="none"/>
</g>
<g stroke="#1c1c18" stroke-width="1.1" stroke-linejoin="round">
<path d="M421.5,171 L421,196 L426,196.5 L427,180 L428,196.5 L433,196 L432.5,171 Z" fill="#464a36"/>
<path d="M418,164 C421,163 430,163 434,165 L442,165 L442,169 L434,170 L433,174 L421,174 C419,174 417,176 417,176 C416,171 416,167 418,164 Z" fill="#1e2028"/>
<circle cx="426" cy="159.5" r="4" fill="#464a36"/>
<circle cx="420" cy="156.3" r="2.6" fill="#2a2c24"/><circle cx="432" cy="156" r="2.6" fill="#2a2c24"/>
<path d="M426,157 L423,156 M426,157 L429,156" fill="none"/>
<path d="M442,155 C444,153 447,155 446,158 C449,158 449,161 446,162 C447,165 446,170 444,171 C442,172 440,170 440,168 C437,168 436,165 438,163 C436,161 437,158 440,158 C438,156 440,154 442,155 Z" fill="#464a36"/>
</g>
<g stroke="#1c1c18" stroke-width="1.1" stroke-linejoin="round">
<path d="M420,240 L421,270 L426.5,270 L428,248 L429.5,270 L435,270 L435,240 Z" fill="#a9aa9a"/>
<path d="M421,223 C428,221 436,222 440,226 C443,231 442,237 436,240 L420,240 C419,235 419,230 419,229 C415,228 411,226 408,219 L410,217 C414,221 417,223 421,223 Z" fill="#8d917c"/>
<path d="M419,226.5 L441,226.5 M419,230 L442,230 M419,233.5 L442,233.5 M419,237 L440,237" stroke-width="1.0" fill="none"/>
<circle cx="427.5" cy="216.5" r="4.6" fill="#e4e4dc"/>
<path d="M423,214.5 C423.5,211 431,210 433,213.5 C436,212.5 440,215 441,220 C438,219 435,217.5 432,217 C429,215 425,215.5 423,214.5 Z" fill="#1c1c18"/>
<path d="M407.5,218.5 L407.5,246.5" fill="none" stroke-width="1.2"/>
<circle cx="407.5" cy="248" r="1.8" fill="#3a3a34" stroke-width="1.2"/>
</g>
<g stroke="#1c1c18" stroke-width="1.1" stroke-linejoin="round">
<path d="M419,315 L421,346 L426,346 L427,325 L429,346 L434,346 L433,315 Z" fill="#d8c6a2"/>
<path d="M415,300 C417,295 422,292 427,292 C433,292 437,294 438,298 C439,307 439,316 438,324 L431,324 L431,316 L426,316 L422,323 L415,322 C415,314 414,306 415,300 Z" fill="#b88c5a"/>
<path d="M425,294 L431,294 L430,316 L424,316 Z" fill="#c9a070" stroke-width="0.9"/>
<path d="M415,300 L408,299 L411,308 L417,309 Z" fill="#f0efe8"/>
<path d="M405,291 C407,289 410,292 411,296 L408,299 C406,297 404,294 405,291 Z" fill="#ebeae5"/>
<path d="M419.5,278 C421,275 428,275 429.5,279 L429.5,291 L421,291 C419.5,287 419,282 419.5,278 Z" fill="#c79c72"/>
<path d="M419,279 C420,275 428,274 430,278 L426,279 Z" fill="#1c1c18"/>
<path d="M421,293 L427,294 L424,297 Z" fill="#1c1c18"/>
</g>
<g stroke="#1c1c18" stroke-width="1.1" stroke-linejoin="round">
<path d="M419,393 C419,403 421,415 423,424 L426,424 L428,398 L430,424 L433,424 C435,415 437,403 437,393 Z" fill="#6e7d42"/>
<path d="M419,393 C419,403 420,413 423,424 L425,424 C423,413 422,403 422,393 Z" fill="#f0efe8" stroke="none"/>
<path d="M422,367 C428,366 433,367 436,369 L442,373 L441,364 L445,363 L446,376 C444,380 441,380 437,377 L437,393 L419,393 L418,371 C419,369 421,367 422,367 Z" fill="#6e7d42"/>
<path d="M422,367 C416,369 413,375 412,385 L411,396 L414,397 L416,383 L419,377 L419,393 L423,393 L423,367 Z" fill="#f0efe8"/>
<path d="M422,353 C424,351 430,351 431,354 L431,367 C429,370 425,370 423,368 C422,363 421,357 422,353 Z" fill="#e8e8e0"/>
<path d="M422,354 C424,351 430,351 431,355 L426,357 Z" fill="#8a8a80"/>
<path d="M419,393 L437,393" stroke-width="1.5"/>
</g>
<g stroke="#1c1c18" stroke-width="1.1" stroke-linejoin="round">
<path d="M422,492 L423,503.5 L426,503.5 L427,492 M432,492 L433,503.5 L436,503.5 L437,492" fill="#e8e8e0"/>
<path d="M424,449 C421,451 419,457 419,465 L418,492 L441,492 C441,483 440,474 439,468 C440,461 439,453 434,449 Z" fill="#dcdcc0"/>
<path d="M419,456 L416,469 L418,469.5 L420,462 M438,455 C441,460 441,470 440,475 L438,475" fill="none"/>
<circle cx="430.2" cy="436.5" r="2.4" fill="#dcdcd4"/>
<path d="M419.5,441 C420,437 424,435.5 428,436 C432,437 432,443 431,447 C430,451 426,451 423,450 C420,448 419,445 419.5,441 Z" fill="#e4e4dc"/>
<path d="M419.5,441 C421,437 428,436 431,440 L422,442 Z" fill="#9a9a90"/>
</g>
<g fill="#7d8a45">
<circle cx="423" cy="458" r="0.9"/><circle cx="428" cy="456" r="0.9"/><circle cx="433" cy="460" r="0.9"/><circle cx="425" cy="464" r="0.9"/><circle cx="430" cy="466" r="0.9"/><circle cx="436" cy="468" r="0.9"/><circle cx="422" cy="471" r="0.9"/><circle cx="427" cy="473" r="0.9"/><circle cx="433" cy="475" r="0.9"/><circle cx="438" cy="479" r="0.9"/><circle cx="424" cy="480" r="0.9"/><circle cx="430" cy="482" r="0.9"/><circle cx="435" cy="486" r="0.9"/><circle cx="422" cy="487" r="0.9"/><circle cx="428" cy="489" r="0.9"/></g>
<defs><clipPath id="jk"><path d="M417,526 C418,523 422,521 426,521 L435,521 C440,522 443,525 444,530 L444,553 L431,553 L431,548 L425,548 L424,554 L417,554 Z"/></clipPath></defs>
<g stroke="#1c1c18" stroke-width="1.1" stroke-linejoin="round">
<path d="M422,549 C421,560 422,572 425,581 L428,581 L432,560 L434,581 L437,581 C440,572 442,560 442,549 Z" fill="#e6e6de"/>
<path d="M417,526 C418,523 422,521 426,521 L435,521 C440,522 443,525 444,530 L444,553 L431,553 L431,548 L425,548 L424,554 L417,554 Z" fill="#f0efe8"/>
<path d="M417,526 L444,526 M417,531 L444,531 M417,536 L444,536 M417,541 L444,541 M417,546 L444,546 M417,551 L444,551 M420,523 L420,554 M425,523 L425,554 M430,523 L430,554 M435,523 L435,554 M440,523 L440,554 " clip-path="url(#jk)" stroke-width="1.1" fill="none"/>
<path d="M425,524 L431,524 L431,548 L425,548 Z" fill="#ebeae5"/>
<path d="M425.5,510 C426,508 434,508 435,510 L435,515 L425.5,515 Z" fill="#ebeae5"/>
<path d="M421.5,515 L438.5,515" stroke-width="2"/>
<path d="M426.5,516 L434.5,516 L434,523 C432,525 428,525 427,523 Z" fill="#e6e6de"/>
</g>
<text x="445.3" y="196.2" font-size="12.5" textLength="113.30000000000001" lengthAdjust="spacingAndGlyphs" fill="#222220" stroke="#222220" stroke-width="0.35" font-family="Liberation Sans, sans-serif" >ARRIÈRE PETIT ENFANT</text>
<text x="444.4" y="270.2" font-size="12.5" textLength="73.60000000000002" lengthAdjust="spacingAndGlyphs" fill="#222220" stroke="#222220" stroke-width="0.35" font-family="Liberation Sans, sans-serif" >PETIT ENFANT</text>
<text x="444.4" y="345.8" font-size="12.5" textLength="41.200000000000045" lengthAdjust="spacingAndGlyphs" fill="#222220" stroke="#222220" stroke-width="0.35" font-family="Liberation Sans, sans-serif" >ENFANT</text>
<text x="445.6" y="422.4" font-size="12.5" textLength="43.39999999999998" lengthAdjust="spacingAndGlyphs" fill="#222220" stroke="#222220" stroke-width="0.35" font-family="Liberation Sans, sans-serif" >PARENT</text>
<text x="446.6" y="499.8" font-size="12.5" textLength="76.89999999999998" lengthAdjust="spacingAndGlyphs" fill="#222220" stroke="#222220" stroke-width="0.35" font-family="Liberation Sans, sans-serif" >GRAND PARENT</text>
<text x="446.5" y="574.2" font-size="12.5" textLength="122.29999999999995" lengthAdjust="spacingAndGlyphs" fill="#222220" stroke="#222220" stroke-width="0.35" font-family="Liberation Sans, sans-serif" >ARRIÈRE GRAND PARENT</text>
<text x="445.8" y="589.5" font-size="11" textLength="83.99999999999994" lengthAdjust="spacingAndGlyphs" fill="#222220" stroke="#222220" stroke-width="0.35" font-family="Liberation Sans, sans-serif" >(PLANTE L’ARBRE)</text>
</svg>
<div class="t" id="title"><span class="m" style="letter-spacing:0.53px">Notre responsabilité pour les générations futures :</span><br><span class="m" style="letter-spacing:0.55px">protéger les arbres sur le long terme pendant</span><br><span class="m" style="letter-spacing:0.41px">des décennies et des siècles</span></div>
<div class="t" id="body"><span class="m">L’arbre a une durée de vie souvent supérieure à l’homme. Il met des décennies à</span><br><span class="m" style="letter-spacing:0.37px">s’établir, et une dégradation menée en quelques minutes par un seul homme peut</span><br><span class="m" style="letter-spacing:0.4px">le condamner irrémédiablement. Des générations successives d’hommes doivent</span><br><span class="m" style="letter-spacing:0.43px">protéger l’arbre pendant toute sa durée de vie.</span></div>
<div class="t f" style="left:24px;top:884.5px;color:#7d8650;font-weight:bold;font-size:11.5px;">8</div>
<div class="t f" style="left:42px;top:884px;font-size:12px;letter-spacing:0.15px;">Plaidoyer pour une loi</div>
<div class="t f" style="left:164.3px;top:883.5px;font-family:'Liberation Serif',serif;font-size:12.5px;">Arbres</div>
<div class="t f" style="left:200.4px;top:884px;font-family:'Liberation Serif',serif;font-size:11px;font-style:italic;letter-spacing:-0.1px;">hors forêt</div>
<div class="t f" style="left:431px;top:884.5px;font-size:11.5px;letter-spacing:-0.3px;">CAUE 77</div>
<div class="t f" style="left:511px;top:884.5px;font-size:11.5px;letter-spacing:-0.5px;">A.R.B.R.E.S.</div>
</body></html>
